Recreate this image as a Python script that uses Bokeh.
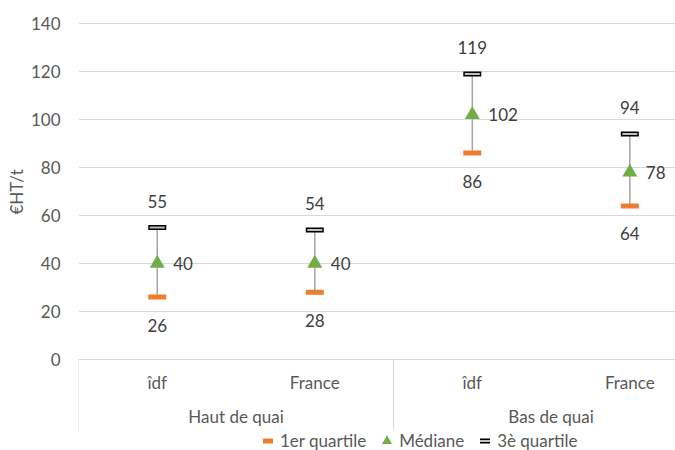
import numpy as np
from bokeh.plotting import figure
from bokeh.models import Range1d, FixedTicker, Legend, LegendItem, Title, ColumnDataSource
from bokeh.core.properties import value
from bokeh.embed import file_html
from bokeh.resources import INLINE

# ---- data ----
groups = ["Haut de quai", "Haut de quai", "Bas de quai", "Bas de quai"]
subcats = ["îdf", "France", "îdf", "France"]
q1 = [26, 28, 86, 64]
median = [40, 40, 102, 78]
q3 = [55, 54, 119, 94]
y_ticks = [0, 20, 40, 60, 80, 100, 120, 140]
y_title = "€HT/t"
legend_labels = ["1er quartile", "Médiane", "3è quartile"]

FONT = "Lato"
FS = "17px"

x = np.arange(len(subcats)) + 0.5
src = ColumnDataSource(dict(x=x, q1=q1, med=median, q3=q3,
                            q1s=[str(v) for v in q1],
                            meds=[str(v) for v in median],
                            q3s=[str(v) for v in q3],
                            sub=subcats))

p = figure(width=675, height=450, output_backend="svg", toolbar_location=None,
           title=None, x_axis_location=None,
           x_range=Range1d(0, 3.79), y_range=Range1d(-37.92, 149.58),
           min_border_left=78, min_border_right=0, min_border_top=0, min_border_bottom=0)
p.outline_line_color = None
p.background_fill_color = "white"
p.border_fill_color = "white"
p.xgrid.visible = False
p.ygrid.ticker = FixedTicker(ticks=y_ticks)
p.ygrid.grid_line_color = "#D9D9D9"
p.ygrid.grid_line_width = 1

ax = p.yaxis[0]
ax.ticker = FixedTicker(ticks=y_ticks)
ax.axis_line_color = None
ax.major_tick_line_color = None
ax.minor_tick_line_color = None
ax.major_tick_out = 0
ax.major_tick_in = 0
ax.minor_tick_out = 0
ax.minor_tick_in = 0
ax.major_label_text_font = FONT
ax.major_label_text_font_size = FS
ax.major_label_text_color = "#595959"
ax.major_label_standoff = 18

# y-axis title (left panel, offset from frame bottom)
p.add_layout(Title(text=y_title, align="left", offset=236, vertical_align="middle",
                   text_font=FONT, text_font_size=FS, text_font_style="normal",
                   text_color="#595959", standoff=0), "left")

# category axis: separators and labels
bounds = [0]
for i in range(1, len(groups)):
    if groups[i] != groups[i - 1]:
        bounds.append(i)
bounds.append(len(groups))
p.segment(x0=bounds, y0=[0] * len(bounds), x1=bounds, y1=[-29.4] * len(bounds),
          line_color="#D9D9D9", line_width=1)
p.text(x="x", y=-9.6, text="sub", source=src, text_font=value(FONT), text_font_size=FS,
       text_color="#595959", text_align="center", text_baseline="middle")
gnames, gx = [], []
for a, b in zip(bounds[:-1], bounds[1:]):
    gnames.append(groups[a])
    gx.append((a + b) / 2)
p.text(x=gx, y=[-23.6] * len(gx), text=gnames, text_font=value(FONT), text_font_size=FS,
       text_color="#595959", text_align="center", text_baseline="middle")

# high-low lines
p.segment(x0="x", y0="q1", x1="x", y1="q3", source=src, line_color="#A6A6A6", line_width=1.5)

r_q1 = p.scatter("x", "q1", source=src, marker="dash", size=18, line_color="#ED7D31", line_width=5)
r_q3a = p.scatter("x", "q3", source=src, marker="dash", size=18, line_color="#000000", line_width=5)
r_q3b = p.scatter("x", "q3", source=src, marker="dash", size=15, line_color="#BFBFBF", line_width=2)
r_med = p.scatter("x", "med", source=src, marker="triangle", size=15, fill_color="#70AD47",
                  line_color=None)

# data labels
p.text(x="x", y="q3", text="q3s", source=src, y_offset=-26, text_font=value(FONT),
       text_font_size=FS, text_color="#404040", text_align="center", text_baseline="middle")
p.text(x="x", y="q1", text="q1s", source=src, y_offset=28, text_font=value(FONT),
       text_font_size=FS, text_color="#404040", text_align="center", text_baseline="middle")
p.text(x="x", y="med", text="meds", source=src, x_offset=16, text_font=value(FONT),
       text_font_size=FS, text_color="#404040", text_align="left", text_baseline="middle")

legend = Legend(items=[LegendItem(label=legend_labels[0], renderers=[r_q1]),
                       LegendItem(label=legend_labels[1], renderers=[r_med]),
                       LegendItem(label=legend_labels[2], renderers=[r_q3a, r_q3b])],
                orientation="horizontal", location=(177, -3), padding=0, margin=0,
                spacing=8, glyph_width=25, glyph_height=25, label_standoff=-3,
                border_line_color=None, background_fill_alpha=0,
                label_text_font=FONT, label_text_font_size=FS, label_text_color="#595959")
p.add_layout(legend, "center")

open("out.html", "w").write(file_html(p, INLINE))
